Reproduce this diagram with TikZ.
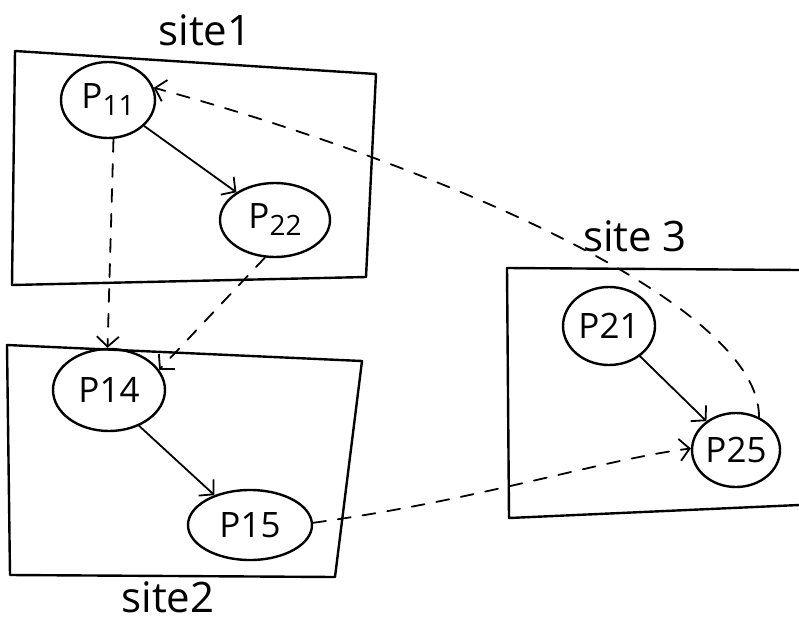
\documentclass[tikz,border=0pt]{standalone}
\usepackage{fontspec}
\setmainfont{Open Sans}
\usetikzlibrary{shapes.geometric,arrows.meta}
\begin{document}
\begin{tikzpicture}[x=1pt,y=-1pt,line width=2.4pt,line join=round,line cap=round,
  proc/.style={draw,ellipse,inner sep=0pt,font=\fontsize{35}{35}\selectfont},
  sitelbl/.style={inner sep=0pt,font=\fontsize{42}{42}\selectfont},
  msg/.style={-{Straight Barb[length=10pt,width=22pt]},line width=1.8pt},
  remote/.style={msg,dash pattern=on 13pt off 12pt}]
\useasboundingbox (0,0) rectangle (799,621);

% site boxes
\draw (15,51) -- (376,74) -- (366,277) -- (12,285) -- cycle;
\draw (7,345) -- (362,361) -- (335,577) -- (10,575) -- cycle;
\draw (799,270) -- (507,268) -- (509,518) -- (799,505);

% site labels
\node[sitelbl] (s1) at (205,30) {site1};
\node[sitelbl] (s2) at (168,597) {site2};
\node[sitelbl] (s3) at (635,236) {site 3};

% processes
\node[proc,minimum width=94pt,minimum height=76pt] (p11) at (108,100)
  {P\raisebox{-7pt}{\fontsize{28}{28}\selectfont 11}};
\node[proc,minimum width=110pt,minimum height=74pt] (p22) at (275,220)
  {P\raisebox{-7pt}{\fontsize{28}{28}\selectfont 22}};
\node[proc,minimum width=112pt,minimum height=82pt] (p14) at (109,390) {P14};
\node[proc,minimum width=124pt,minimum height=70pt] (p15) at (250,525) {P15};
\node[proc,minimum width=92pt,minimum height=78pt] (p21) at (609,326) {P21};
\node[proc,minimum width=88pt,minimum height=74pt] (p25) at (736,450) {P25};

% local messages
\draw[msg] (p11) -- (p22);
\draw[msg] (p14.-50) -- (p15.140);
\draw[msg] (p21) -- (p25);

% messages between sites
\draw[remote] (p11.-82) -- (p14.92);
\draw[remote] (p22.-105) -- (p14.22);
\draw[remote] (p15.2) .. controls (480,500) and (600,460) .. (p25.178);
\draw[remote] (p25.55) .. controls (760,300) and (420,160) .. (p11.15);
\end{tikzpicture}
\end{document}
